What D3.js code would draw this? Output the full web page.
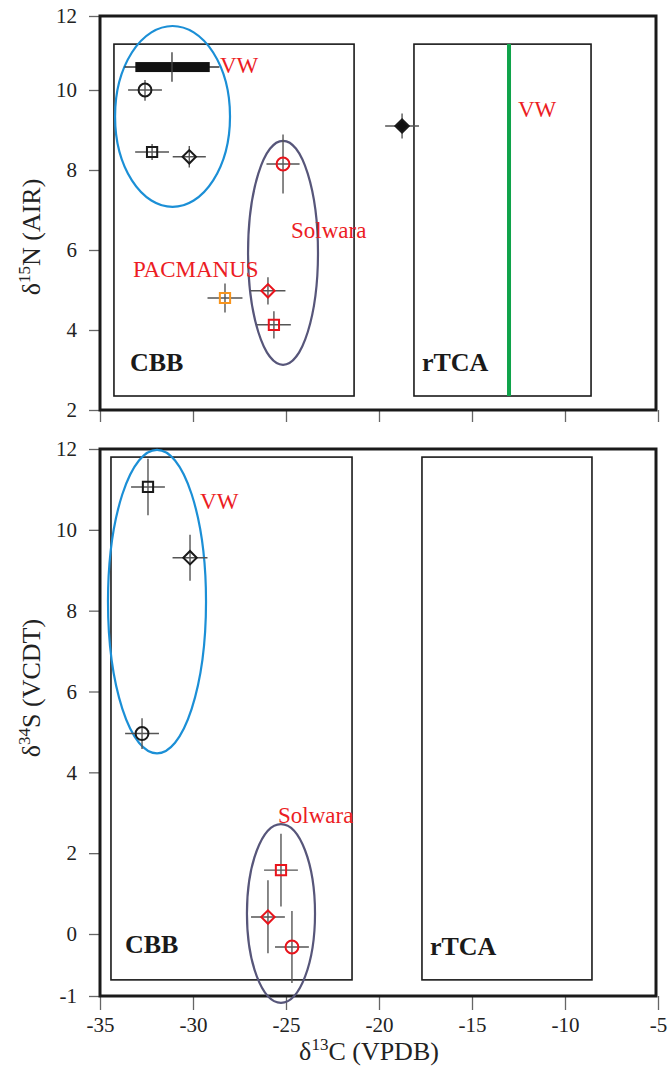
<!DOCTYPE html>
<html>
<head>
	<meta charset="utf-8">
	<style>
		body { margin: 0; background: #fff; }
		text { font-family: "Liberation Serif", "Times New Roman", serif; }
	</style>
</head>
<body>
	<script src="https://d3js.org/d3.v7.min.js"></script>

	<script>
		// tick labels
		const xTicks = [-35, -30, -25, -20, -15, -10, -5];
		const nTicks = [2, 4, 6, 8, 10, 12];
		const sTicks = [-1, 0, 2, 4, 6, 8, 10, 12];

		// top panel: d13C vs d15N
		const nSite   = ['VW', 'VW', 'VW', 'Solwara', 'PACMANUS', 'Solwara', 'Solwara', 'VW'];
		const nShape  = ['circle', 'square', 'diamond', 'circle', 'square', 'diamond', 'square', 'filled'];
		const nC13    = [-32.58, -32.2, -30.2, -25.16, -28.28, -25.97, -25.65, -18.76];
		const nN15    = [10.0, 8.45, 8.33, 8.15, 4.8, 4.98, 4.13, 9.1];
		const nC13err = [0.91, 0.91, 0.89, 0.89, 0.94, 0.94, 0.91, 0.91];
		const nN15err = [0.27, 0.2, 0.27, 0.74, 0.36, 0.34, 0.34, 0.31];

		// VW range bar (top panel)
		const barC13 = [-33.1, -29.1];
		const barMid = [-31.13, 10.62];
		const barErr = [2.55, 0.4];

		// bottom panel: d13C vs d34S
		const sSite   = ['VW', 'VW', 'VW', 'Solwara', 'Solwara', 'Solwara'];
		const sShape  = ['square', 'diamond', 'circle', 'square', 'diamond', 'circle'];
		const sC13    = [-32.42, -30.16, -32.74, -25.27, -25.97, -24.68];
		const sS34    = [11.06, 9.31, 4.96, 1.58, 0.42, -0.21];
		const sC13err = [0.91, 0.94, 0.91, 0.91, 0.91, 0.91];
		const sS34lo  = [0.7, 0.57, 0.38, 0.9, 0.73, 0.58];
		const sS34hi  = [0.7, 0.57, 0.38, 0.9, 0.91, 0.78];

		// pathway boxes [x0, x1, y0, y1]
		const nBoxes = { CBB: [-34.25, -21.34, 2.35, 11.24], rTCA: [-18.12, -8.6, 2.35, 11.24] };
		const sBoxes = { CBB: [-34.41, -21.45, -0.74, 11.8], rTCA: [-17.69, -8.55, -0.74, 11.8] };
		const vwLineC13 = -13.01;

		// grouping ellipses [x0, x1, y0, y1]
		const nEllipses = { VW: [-34.19, -28.01, 7.08, 11.73], Solwara: [-27.04, -23.28, 3.13, 8.73] };
		const sEllipses = { VW: [-34.57, -29.3, 4.47, 11.98], Solwara: [-27.1, -23.44, -1.11, 2.72] };

		const siteColor = { VW: '#1a1a1a', Solwara: '#e8141c', PACMANUS: '#f7941d' };
		const ellColor = { VW: '#1b8fd6', Solwara: '#57567a' };
		const red = '#ec1c24';
		const serif = '"Liberation Serif", "Times New Roman", serif';

		const W = 670, H = 1074;
		const svg = d3.select('body').append('svg')
			.attr('width', W).attr('height', H);

		const x = d3.scaleLinear().domain([-35, -5]).range([100, 658]);
		const yN = d3.scaleLinear().domain([2, 4, 10, 12]).range([410, 330, 90, 16]);
		const yS = d3.scaleLinear().domain([-1, 0, 12]).range([996, 934, 449]);

		const fmt = d => String(d);   // plain hyphen for negatives

		function symbolPath(shape) {
			if (shape === 'circle') return d3.symbol(d3.symbolCircle, 130)();
			if (shape === 'square') return d3.symbol(d3.symbolSquare, 105)();
			return d3.symbol(d3.symbolSquare, 90)();
		}

		function panel(y, yTicks, boxes, ellipses, showX) {
			const g = svg.append('g');

			// axes
			const ya = g.append('g').attr('transform', `translate(${x.range()[0]},0)`)
				.call(d3.axisLeft(y).tickValues(yTicks).tickFormat(fmt).tickSize(11).tickPadding(12));
			const xa = g.append('g').attr('transform', `translate(0,${y.range()[0]})`)
				.call(d3.axisBottom(x).tickValues(xTicks).tickFormat(fmt).tickSize(showX ? 14 : 12).tickPadding(7));
			if (!showX) xa.selectAll('text').remove();
			[ya, xa].forEach(a => {
				a.select('.domain').remove();
				a.selectAll('line').attr('stroke', '#666').attr('stroke-width', 1.3);
				a.selectAll('text').attr('font-size', 21).attr('fill', '#222')
					.style('font-family', serif);
			});

			// outer frame
			const r = y.range();
			g.append('rect')
				.attr('x', x(-35)).attr('y', r[r.length - 1])
				.attr('width', x(-5) - x(-35) - 2).attr('height', r[0] - r[r.length - 1])
				.attr('fill', 'none').attr('stroke', '#1a1a1a').attr('stroke-width', 3);

			// pathway boxes
			Object.entries(boxes).forEach(([k, b]) => {
				g.append('rect')
					.attr('x', x(b[0])).attr('y', y(b[3]))
					.attr('width', x(b[1]) - x(b[0])).attr('height', y(b[2]) - y(b[3]))
					.attr('fill', 'none').attr('stroke', '#1a1a1a').attr('stroke-width', 1.6);
			});

			// ellipses
			Object.entries(ellipses).forEach(([k, e]) => {
				g.append('ellipse')
					.attr('cx', (x(e[0]) + x(e[1])) / 2).attr('cy', (y(e[2]) + y(e[3])) / 2)
					.attr('rx', (x(e[1]) - x(e[0])) / 2).attr('ry', (y(e[2]) - y(e[3])) / 2)
					.attr('fill', 'none').attr('stroke', ellColor[k]).attr('stroke-width', 2.2);
			});
			return g;
		}

		function points(g, y, cx, cy, xe, ylo, yhi, shapes, sites) {
			const data = cx.map((v, i) => ({ cx: v, cy: cy[i], xe: xe[i], ylo: ylo[i], yhi: yhi[i], shape: shapes[i], site: sites[i] }));
			const pg = g.append('g').selectAll('g').data(data).join('g');
			pg.append('line')
				.attr('x1', d => x(d.cx - d.xe)).attr('x2', d => x(d.cx + d.xe))
				.attr('y1', d => y(d.cy)).attr('y2', d => y(d.cy))
				.attr('stroke', '#555').attr('stroke-width', 1.4);
			pg.append('line')
				.attr('x1', d => x(d.cx)).attr('x2', d => x(d.cx))
				.attr('y1', d => y(d.cy - d.ylo)).attr('y2', d => y(d.cy + d.yhi))
				.attr('stroke', '#555').attr('stroke-width', 1.4);
			pg.append('path')
				.attr('d', d => symbolPath(d.shape))
				.attr('transform', d => `translate(${x(d.cx)},${y(d.cy)})` + (d.shape === 'diamond' || d.shape === 'filled' ? ' rotate(45)' : ''))
				.attr('fill', d => d.shape === 'filled' ? '#111' : 'none')
				.attr('stroke', d => siteColor[d.site])
				.attr('stroke-width', 2);
		}

		function label(g, txt, px, py, opts = {}) {
			g.append('text')
				.attr('x', px).attr('y', py)
				.attr('font-size', opts.size || 23)
				.attr('font-weight', opts.bold ? 'bold' : 'normal')
				.attr('fill', opts.color || red)
				.style('font-family', serif)
				.text(txt);
		}

		// ---- top panel ----
		const topG = panel(yN, nTicks, nBoxes, nEllipses, false);

		topG.append('line')
			.attr('x1', x(vwLineC13)).attr('x2', x(vwLineC13))
			.attr('y1', yN(nBoxes.rTCA[3])).attr('y2', yN(nBoxes.rTCA[2]))
			.attr('stroke', '#0fa34a').attr('stroke-width', 4);

		// VW range bar
		topG.append('line')
			.attr('x1', x(barMid[0] - barErr[0])).attr('x2', x(barMid[0] + barErr[0]))
			.attr('y1', yN(barMid[1])).attr('y2', yN(barMid[1]))
			.attr('stroke', '#333').attr('stroke-width', 1.4);
		topG.append('rect')
			.attr('x', x(barC13[0])).attr('y', yN(barMid[1]) - 5)
			.attr('width', x(barC13[1]) - x(barC13[0])).attr('height', 10)
			.attr('fill', '#111');
		topG.append('line')
			.attr('x1', x(barMid[0])).attr('x2', x(barMid[0]))
			.attr('y1', yN(barMid[1] - barErr[1])).attr('y2', yN(barMid[1] + barErr[1]))
			.attr('stroke', '#444').attr('stroke-width', 1.4);

		points(topG, yN, nC13, nN15, nC13err, nN15err, nN15err, nShape, nSite);

		label(topG, 'VW', x(-28.55), yN(10.46));
		label(topG, 'VW', x(-12.53), yN(9.33));
		label(topG, 'Solwara', x(-24.73), yN(6.3));
		label(topG, 'PACMANUS', x(-33.23), yN(5.33));
		label(topG, 'CBB', x(-33.39), yN(2.98), { bold: true, size: 26, color: '#1a1a1a' });
		label(topG, 'rTCA', x(-17.69), yN(2.98), { bold: true, size: 26, color: '#1a1a1a' });

		// ---- bottom panel ----
		const botG = panel(yS, sTicks, sBoxes, sEllipses, true);
		points(botG, yS, sC13, sS34, sC13err, sS34lo, sS34hi, sShape, sSite);

		label(botG, 'VW', x(-29.62), yS(10.52));
		label(botG, 'Solwara', x(-25.43), yS(2.74));
		label(botG, 'CBB', x(-33.66), yS(-0.31), { bold: true, size: 26, color: '#1a1a1a' });
		label(botG, 'rTCA', x(-17.26), yS(-0.34), { bold: true, size: 26, color: '#1a1a1a' });

		// axis titles
		function title(txt, sup, rest, px, py, rot) {
			const t = svg.append('text')
				.attr('transform', `translate(${px},${py})` + (rot ? ' rotate(-90)' : ''))
				.attr('text-anchor', 'middle')
				.attr('font-size', 26).attr('fill', '#222')
				.style('font-family', serif);
			t.append('tspan').text(txt);
			t.append('tspan').attr('font-size', 17).attr('dy', -10).text(sup);
			t.append('tspan').attr('dy', 10).text(rest);
		}
		title('δ', '15', 'N (AIR)', 40, 237, true);
		title('δ', '34', 'S (VCDT)', 40, 688, true);
		title('δ', '13', 'C (VPDB)', 369, 1060, false);
	</script>
</body>
</html>
